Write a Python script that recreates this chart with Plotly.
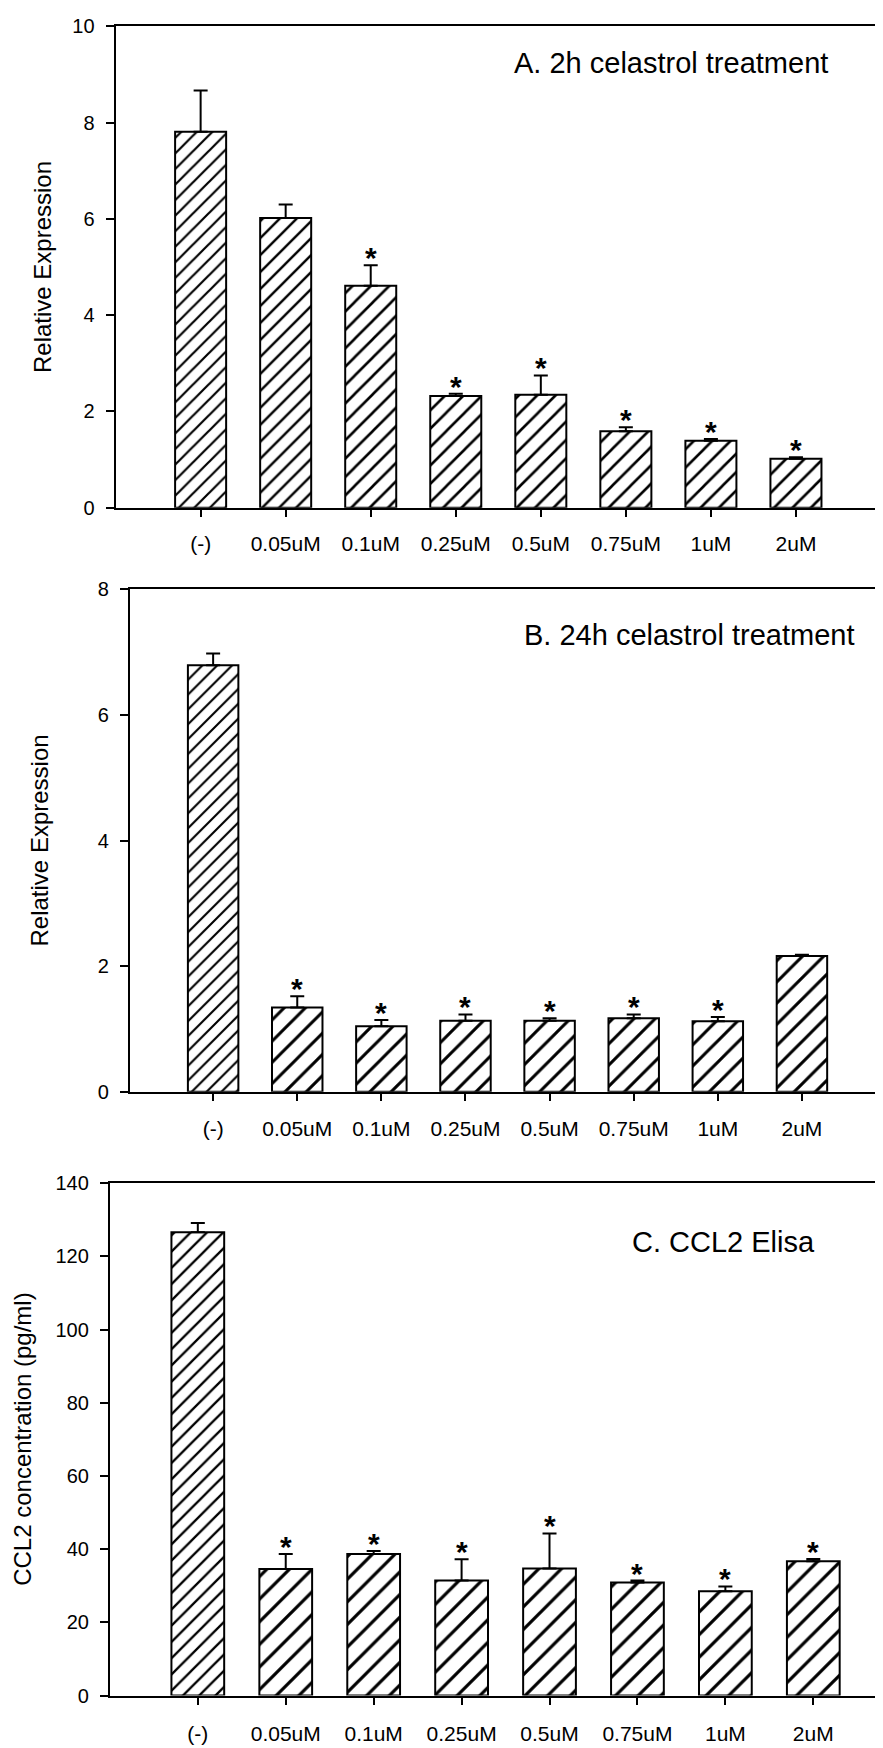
import plotly.graph_objects as go

# ---------------- data ----------------
categories = ["(-)", "0.05uM", "0.1uM", "0.25uM", "0.5uM", "0.75uM", "1uM", "2uM"]

a_title = "A. 2h celastrol treatment"
a_values = [7.81, 6.02, 4.61, 2.32, 2.35, 1.59, 1.39, 1.02]
a_errors = [0.86, 0.28, 0.43, 0.05, 0.40, 0.08, 0.04, 0.03]
a_signif = [False, False, True, True, True, True, True, True]

b_title = "B. 24h celastrol treatment"
b_values = [6.79, 1.34, 1.04, 1.13, 1.13, 1.17, 1.12, 2.16]
b_errors = [0.19, 0.18, 0.10, 0.10, 0.04, 0.06, 0.07, 0.02]
b_signif = [False, True, True, True, True, True, True, False]

c_title = "C. CCL2 Elisa"
c_values = [126.6, 34.6, 38.7, 31.4, 34.7, 30.9, 28.5, 36.7]
c_errors = [2.5, 4.1, 0.8, 5.8, 9.6, 0.5, 1.3, 0.6]
c_signif = [False, True, True, True, True, True, True, True]

ylabel_ab = "Relative Expression"
ylabel_c = "CCL2 concentration (pg/ml)"

# ---------------- styling / layout ----------------
OFF = 8                      # default page (body) margin of the html page
W, H = 883 - OFF, 1748 - OFF  # figure size so that the page fits the window
FONT = "Arial, Liberation Sans, sans-serif"

# positions below are in window pixels
panels = [
    dict(vals=a_values, errs=a_errors, sig=a_signif, title=a_title, ylabel=ylabel_ab,
         x0=115.7, x1=882, y0=15.5, y1=503, xr=[-1, 8], yr=[0, 10], dtick=2,
         hatch=[11, 12, 13, 13, 13, 13, 13, 13], xstand=9,
         tx=513, ty=53, lx=42),
    dict(vals=b_values, errs=b_errors, sig=b_signif, title=b_title, ylabel=ylabel_ab,
         x0=130, x1=882, y0=585.7, y1=1094.4, xr=[-0.99, 7.94], yr=[0, 8], dtick=2,
         hatch=[10.5, 15, 15, 15, 15, 15, 15, 15], xstand=10,
         tx=523, ty=632, lx=40),
    dict(vals=c_values, errs=c_errors, sig=c_signif, title=c_title, ylabel=ylabel_c,
         x0=110, x1=882, y0=1187, y1=1706, xr=[-1.0, 7.77], yr=[0, 140], dtick=20,
         hatch=[11.5, 16, 16, 16, 16, 16, 16, 16], xstand=11,
         tx=631, ty=1247, lx=22.5),
]


def px(x):
    return (x - OFF) / W


def py(y):
    return 1 - (y - OFF) / H


fig = go.Figure()
annotations = []

for i, p in enumerate(panels):
    n = "" if i == 0 else str(i + 1)
    xa, ya = "x" + n, "y" + n
    fig.add_trace(go.Bar(
        x=categories, y=p["vals"], xaxis=xa, yaxis=ya, width=0.6,
        marker=dict(color="white", line=dict(color="black", width=2),
                    pattern=dict(shape="/", fgcolor="black", bgcolor="white",
                                 size=p["hatch"], solidity=0.2, fillmode="replace")),
        error_y=dict(type="data", symmetric=False, array=p["errs"],
                     arrayminus=[0] * len(p["errs"]),
                     color="black", thickness=2, width=7),
        showlegend=False, hoverinfo="skip",
    ))
    dom_x = [px(p["x0"]), min(1.0, px(p["x1"]))]
    dom_y = [py(p["y1"]), py(p["y0"])]
    fig.update_layout(**{
        ("xaxis" + n): dict(domain=dom_x, range=p["xr"], type="category",
                            anchor=ya, showline=True, linecolor="black", linewidth=2,
                            mirror=True, ticks="outside", ticklen=7, tickwidth=2,
                            tickcolor="black", showgrid=False, zeroline=False,
                            tickfont=dict(family=FONT, size=21, color="black"),
                            ticklabelstandoff=p["xstand"]),
        ("yaxis" + n): dict(domain=dom_y, range=p["yr"], dtick=p["dtick"],
                            anchor=xa, showline=True, linecolor="black", linewidth=2,
                            mirror=True, ticks="outside", ticklen=8, tickwidth=2,
                            tickcolor="black", showgrid=False, zeroline=False,
                            tickfont=dict(family=FONT, size=20, color="black"),
                            ticklabelstandoff=7),
    })
    # significance stars
    for c, v, e, s in zip(categories, p["vals"], p["errs"], p["sig"]):
        if s:
            annotations.append(dict(x=c, y=v + e, xref=xa, yref=ya, text="<b>*</b>",
                                    showarrow=False, yanchor="bottom", yshift=-11,
                                    font=dict(family=FONT, size=30, color="black")))
    # panel title
    annotations.append(dict(x=px(p["tx"]), y=py(p["ty"]), xref="paper", yref="paper",
                            text=p["title"], showarrow=False, xanchor="left", yanchor="middle",
                            font=dict(family=FONT, size=29, color="black")))
    # y-axis title
    annotations.append(dict(x=px(p["lx"]), y=py((p["y0"] + p["y1"]) / 2),
                            xref="paper", yref="paper", text=p["ylabel"], textangle=-90,
                            showarrow=False, xanchor="center", yanchor="middle",
                            font=dict(family=FONT, size=24, color="black")))

fig.update_layout(width=W, height=H, margin=dict(l=0, r=0, t=0, b=0),
                  paper_bgcolor="white", plot_bgcolor="white",
                  annotations=annotations, bargap=0.4)

fig.write_html("out.html")
